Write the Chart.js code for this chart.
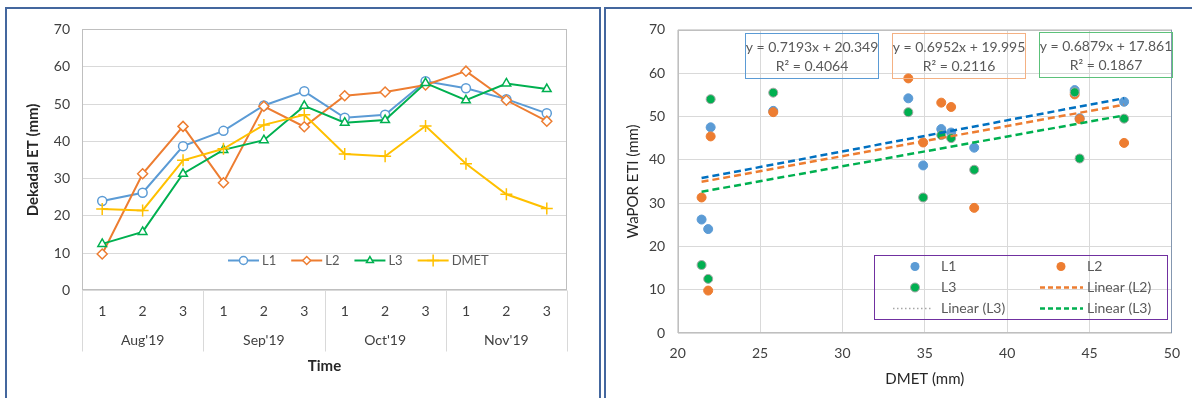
<!DOCTYPE html>
<html>
<head>
<meta charset="utf-8">
<script src="https://cdn.jsdelivr.net/npm/chart.js@4.4.1/dist/chart.umd.min.js"></script>
<style>
  html, body { margin: 0; padding: 0; background: #fff; width: 1192px; height: 398px; overflow: hidden; }
  .panel { position: absolute; border: 2px solid #44679e; border-bottom: none; }
  #leftPanel { left: 5px; top: 7px; width: 592px; height: 391px; }
  #rightPanel { left: 604px; top: 7px; width: 600px; height: 391px; border-right: none; }
  canvas { display: block; }
</style>
</head>
<body>
<div class="panel" id="leftPanel"><canvas id="lineChart" width="592" height="389"></canvas></div>
<div class="panel" id="rightPanel"><canvas id="scatterChart" width="586" height="389"></canvas></div>

<script>
// dekads (x categories) and month groups
const dekads = ['1', '2', '3', '1', '2', '3', '1', '2', '3', '1', '2', '3'];
const months = ["Aug'19", "Sep'19", "Oct'19", "Nov'19"];

// dekadal ET (mm)
const l1 = [24.0, 26.2, 38.7, 42.8, 49.6, 53.4, 46.3, 47.1, 56.1, 54.2, 51.3, 47.5];
const l2 = [9.8, 31.3, 44.0, 28.9, 49.4, 43.9, 52.2, 53.2, 55.1, 58.8, 51.0, 45.4];
const l3 = [12.5, 15.7, 31.3, 37.7, 40.3, 49.5, 45.0, 45.7, 55.6, 51.0, 55.5, 54.0];
const dmet = [21.85, 21.45, 34.9, 38.0, 44.4, 47.1, 36.6, 36.0, 44.1, 34.0, 25.8, 22.0];

// trendline equations shown on the scatter (L1, L2, L3)
const trendSlope = [0.7193, 0.6952, 0.6879];
const trendIntercept = [20.349, 19.995, 17.861];
const trendR2 = [0.4064, 0.2116, 0.1867];

const FONT = 'Lato, "Open Sans", sans-serif';
Chart.defaults.font.family = FONT;
Chart.defaults.font.size = 14;
Chart.defaults.color = '#404040';

const BLUE = '#5b9bd5', ORANGE = '#ed7d31', GREEN = '#00b050', GOLD = '#ffc000';

// plot border, month separators and legend for the line chart
const leftDecor = {
    id: 'leftDecor',
    beforeDatasetsDraw(chart) {
        const { ctx, chartArea: a } = chart;
        ctx.save();
        ctx.strokeStyle = '#bfbfbf';
        ctx.lineWidth = 1;
        ctx.strokeRect(Math.round(a.left) + 0.5, Math.round(a.top) + 0.5,
            Math.round(a.width) - 1, Math.round(a.height) - 1);
        ctx.restore();
    },
    afterDraw(chart) {
        const { ctx, chartArea: a } = chart;
        const xs = chart.scales.x;
        const perMonth = dekads.length / months.length;
        ctx.save();
        ctx.strokeStyle = '#d9d9d9';
        ctx.lineWidth = 1;
        for (let g = 0; g <= months.length; g++) {
            const px = Math.round(xs.getPixelForValue(g * perMonth - 0.5)) + 0.5;
            ctx.beginPath();
            ctx.moveTo(px, a.bottom);
            ctx.lineTo(px, a.bottom + 61);
            ctx.stroke();
        }

        // legend
        const y = a.bottom - 30;
        let x = a.left + 146;
        ctx.font = '13px ' + FONT;
        ctx.textBaseline = 'middle';
        chart.data.datasets.forEach(ds => {
            ctx.strokeStyle = ds.borderColor;
            ctx.lineWidth = 2;
            ctx.beginPath();
            ctx.moveTo(x, y);
            ctx.lineTo(x + 31, y);
            ctx.stroke();
            ctx.fillStyle = ds.pointBackgroundColor;
            ctx.lineWidth = 1.5;
            Chart.helpers.drawPoint(ctx, {
                pointStyle: ds.pointStyle,
                radius: ds.pointStyle === 'cross' ? 6 : 4,
                rotation: 0,
                borderWidth: 1.5
            }, x + 15.5, y);
            ctx.fillStyle = '#595959';
            ctx.fillText(ds.label, x + 34, y);
            x += 34 + ctx.measureText(ds.label).width + 15;
        });
        ctx.restore();
    }
};

const lineDataset = (label, data, color, style, radius, order) => ({
    label, data, order,
    borderColor: color,
    backgroundColor: color,
    borderWidth: 2,
    pointStyle: style,
    pointRadius: radius,
    pointBorderColor: color,
    pointBackgroundColor: '#fff',
    pointBorderWidth: 1.5,
    tension: 0
});

new Chart(document.getElementById('lineChart'), {
    type: 'line',
    data: {
        labels: dekads,
        datasets: [
            lineDataset('L1', l1, BLUE, 'circle', 4.5, 3),
            lineDataset('L2', l2, ORANGE, 'rectRot', 5, 2),
            lineDataset('L3', l3, GREEN, 'triangle', 5, 1),
            lineDataset('DMET', dmet, GOLD, 'cross', 6, 0)
        ]
    },
    options: {
        responsive: false,
        animation: false,
        layout: { padding: { top: 18, right: 32, left: 0, bottom: 0 } },
        plugins: { legend: { display: false }, tooltip: { enabled: false } },
        scales: {
            x: {
                type: 'category',
                position: 'bottom',
                weight: 0,
                offset: true,
                grid: { display: false },
                border: { display: false },
                ticks: { padding: 5, maxRotation: 0, autoSkip: false },
                afterFit(s) { s.height = 30; }
            },
            x2: {
                type: 'category',
                labels: months,
                position: 'bottom',
                weight: 1,
                offset: true,
                grid: { display: false },
                border: { display: false },
                ticks: { padding: 4, maxRotation: 0, autoSkip: false },
                title: { display: true, text: 'Time', color: '#262626', font: { size: 15, weight: 'bold' }, padding: { top: 0, bottom: 23 } },
                afterFit(s) { s.height = 77.5; }
            },
            y: {
                min: 0,
                max: 70,
                ticks: { stepSize: 10, padding: 12 },
                grid: { color: '#d9d9d9', drawTicks: false },
                border: { display: false },
                title: { display: true, text: 'Dekadal ET (mm)', color: '#262626', font: { size: 15, weight: 'bold' }, padding: { top: 17 } },
                afterFit(s) { s.width = 75; }
            }
        }
    },
    plugins: [leftDecor]
});

// scatter: each site's ET against DMET
const pairs = series => dmet.map((x, i) => ({ x, y: series[i] }));
const dMin = Math.min(...dmet), dMax = Math.max(...dmet);
const trendPoints = k => [dMin, dMax].map(x => ({ x, y: trendSlope[k] * x + trendIntercept[k] }));

const boxColors = ['#5b9bd5', '#f4b183', '#5cc17a'];

const rightDecor = {
    id: 'rightDecor',
    beforeDatasetsDraw(chart) {
        const { ctx, chartArea: a } = chart;
        ctx.save();
        ctx.lineWidth = 1;
        ctx.strokeStyle = '#bfbfbf';
        ctx.strokeRect(Math.round(a.left) + 0.5, Math.round(a.top) + 0.5,
            Math.round(a.width) - 1, Math.round(a.height) - 1);
        ctx.strokeStyle = '#8497b0';
        ctx.beginPath();
        ctx.moveTo(Math.round(a.right) - 0.5, a.top);
        ctx.lineTo(Math.round(a.right) - 0.5, a.bottom);
        ctx.stroke();
        ctx.restore();
    },
    afterDraw(chart) {
        const { ctx, chartArea: a } = chart;
        ctx.save();
        ctx.textBaseline = 'middle';

        // equation boxes
        ctx.font = '14px ' + FONT;
        ctx.textAlign = 'center';
        for (let k = 0; k < trendSlope.length; k++) {
            const bx = Math.round(a.left + 67 + k * 147) + 0.5;
            const by = Math.round(a.top + 3) + 0.5 - (k === 2 ? 1 : 0);
            ctx.strokeStyle = boxColors[k];
            ctx.strokeRect(bx, by, 133, 45);
            ctx.fillStyle = '#595959';
            ctx.fillText('y = ' + trendSlope[k] + 'x + ' + trendIntercept[k], bx + 66.5, by + 14);
            ctx.fillText('R\u00b2 = ' + trendR2[k], bx + 66.5, by + 33);
        }

        // legend box
        const lx = Math.round(a.left + 196.5) + 0.5, ly = Math.round(a.bottom - 78) + 0.5;
        ctx.strokeStyle = '#7030a0';
        ctx.strokeRect(lx, ly, 293, 64);
        ctx.textAlign = 'left';
        ctx.font = '14px ' + FONT;
        const rows = [ly + 11, ly + 32, ly + 53];
        const c1 = lx + 40.5, c2 = lx + 186.5;
        const dot = (x, y, fill, stroke) => {
            ctx.beginPath();
            ctx.arc(x, y, 4.5, 0, Math.PI * 2);
            ctx.fillStyle = fill;
            ctx.fill();
            if (stroke) { ctx.strokeStyle = stroke; ctx.lineWidth = 1; ctx.stroke(); }
        };
        const dash = (x1, x2, y, color, pattern, w) => {
            ctx.strokeStyle = color;
            ctx.lineWidth = w;
            ctx.setLineDash(pattern);
            ctx.beginPath();
            ctx.moveTo(x1, y);
            ctx.lineTo(x2, y);
            ctx.stroke();
            ctx.setLineDash([]);
        };
        const label = (t, x, y) => { ctx.fillStyle = '#595959'; ctx.fillText(t, x, y); };

        dot(c1, rows[0], BLUE); label('L1', c1 + 26, rows[0]);
        dot(c2, rows[0], ORANGE); label('L2', c2 + 26, rows[0]);
        dot(c1, rows[1], GREEN, '#a6a6a6'); label('L3', c1 + 26, rows[1]);
        dash(c2 - 21, c2 + 22, rows[1], ORANGE, [5, 3], 2.5); label('Linear (L2)', c2 + 26, rows[1]);
        dash(c1 - 22, c1 + 18, rows[2], '#a6a6a6', [1.5, 2.5], 1.5); label('Linear (L3)', c1 + 26, rows[2]);
        dash(c2 - 21, c2 + 22, rows[2], GREEN, [5, 3], 2.5); label('Linear (L3)', c2 + 26, rows[2]);
        ctx.restore();
    }
};

const trendDataset = (k, color) => ({
    type: 'line',
    label: 'Linear',
    data: trendPoints(k),
    borderColor: color,
    borderWidth: 2.5,
    borderDash: [7, 4],
    pointRadius: 0,
    fill: false,
    order: -1 - k
});

new Chart(document.getElementById('scatterChart'), {
    type: 'scatter',
    data: {
        datasets: [
            { label: 'L1', data: pairs(l1), backgroundColor: BLUE, borderColor: BLUE, pointRadius: 4.5, order: 3 },
            { label: 'L2', data: pairs(l2), backgroundColor: ORANGE, borderColor: ORANGE, pointRadius: 4.5, order: 2 },
            { label: 'L3', data: pairs(l3), backgroundColor: GREEN, borderColor: '#a6a6a6', borderWidth: 1, pointRadius: 4.5, order: 1 },
            trendDataset(0, '#0070c0'),
            trendDataset(1, ORANGE),
            trendDataset(2, GREEN)
        ]
    },
    options: {
        responsive: false,
        animation: false,
        layout: { padding: { top: 18, right: 11, left: 0, bottom: 0 } },
        plugins: { legend: { display: false }, tooltip: { enabled: false } },
        scales: {
            x: {
                type: 'linear',
                min: 20,
                max: 50,
                ticks: { stepSize: 5, padding: 12 },
                grid: { color: '#d9d9d9', drawTicks: false },
                border: { display: false },
                title: { display: true, text: 'DMET (mm)', color: '#262626', font: { size: 15 }, padding: { top: 0, bottom: 10 } },
                afterFit(s) { s.height = 65; }
            },
            y: {
                min: 0,
                max: 70,
                ticks: { stepSize: 10, padding: 12.5 },
                grid: { color: '#d9d9d9', drawTicks: false },
                border: { display: false },
                title: { display: true, text: 'WaPOR ETI (mm)', color: '#262626', font: { size: 15 }, padding: { top: 18 } },
                afterFit(s) { s.width = 71.7; }
            }
        }
    },
    plugins: [rightDecor]
});
</script>
</body>
</html>
